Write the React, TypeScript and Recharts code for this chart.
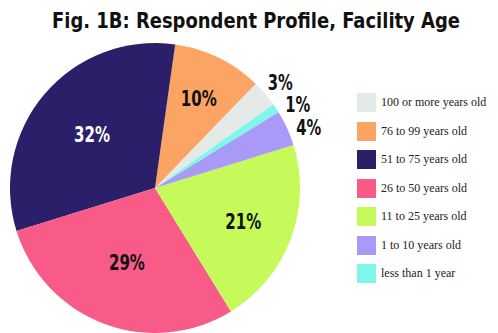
import { Cell, Pie, PieChart } from "recharts";

const categories = [
  "100 or more years old",
  "76 to 99 years old",
  "51 to 75 years old",
  "26 to 50 years old",
  "11 to 25 years old",
  "1 to 10 years old",
  "less than 1 year",
];
const shares = [3, 10, 32, 29, 21, 4, 1];
const colors = ["#e4eae8", "#fca464", "#2b1f6a", "#f95b88", "#c5fa5a", "#a89af6", "#80f6ea"];
// label distance from centre, as a fraction of the radius (small slices sit outside)
const labelRadius = [1.13, 0.69, 0.57, 0.55, 0.65, 1.14, 1.14];
// clockwise nudge (degrees) so the small outside labels do not collide
const labelNudge = [0.5, 0, 0, 0, 0, 2.8, 3.2];

const data = categories.map((name, i) => ({ name, value: shares[i] }));

const labelFont = "'DejaVu Sans Condensed', 'DejaVu Sans', sans-serif";

const RAD = Math.PI / 180;

function renderLabel(props: any) {
  const { cx, cy, midAngle, outerRadius, value, index } = props;
  const r = outerRadius * labelRadius[index];
  const a = (midAngle - labelNudge[index]) * RAD;
  const x = cx + r * Math.cos(-a);
  const y = cy + r * Math.sin(-a);
  const txt = `${value}%`;
  return (
    <text
      x={x}
      y={y}
      textAnchor="middle"
      dominantBaseline="central"
      fontFamily={labelFont}
      fontWeight="bold"
      fontSize={22}
      textLength={(txt.length - 1) * 11 + 14}
      lengthAdjust="spacingAndGlyphs"
      fill={index === 2 ? "#ffffff" : "#111111"}
    >
      {txt}
    </text>
  );
}

export default function App() {
  return (
    <div style={{ position: "absolute", left: 0, top: 0, width: 498, height: 333, background: "#fff" }}>
      <svg width={498} height={40} style={{ position: "absolute", left: 0, top: 0 }}>
        <text
          x={256}
          y={28}
          textAnchor="middle"
          fontFamily={labelFont}
          fontWeight="bold"
          fontSize={22}
          textLength={408}
          lengthAdjust="spacingAndGlyphs"
          fill="#111"
        >
          Fig. 1B: Respondent Profile, Facility Age
        </text>
      </svg>
      <div style={{ position: "absolute", left: 0, top: 0 }}>
        <PieChart width={498} height={333} margin={{ top: 0, right: 0, bottom: 0, left: 0 }}>
          <Pie
            data={data}
            dataKey="value"
            nameKey="name"
            cx={155}
            cy={188}
            outerRadius={145}
            startAngle={35.2}
            endAngle={395.2}
            stroke="none"
            labelLine={false}
            label={renderLabel}
            isAnimationActive={false}
          >
            {data.map((d, i) => (
              <Cell key={d.name} fill={colors[i]} />
            ))}
          </Pie>
        </PieChart>
      </div>
      <div
        style={{
          position: "absolute",
          left: 357,
          top: 93,
          fontFamily: "'Liberation Serif', serif",
          fontSize: 12,
          color: "#222",
        }}
      >
        {categories.map((c, i) => (
          <div key={c} style={{ display: "flex", alignItems: "center", height: 19, marginBottom: 9.5 }}>
            <span style={{ width: 19, height: 19, background: colors[i], marginRight: 5, flex: "none" }} />
            <span style={{ whiteSpace: "nowrap" }}>{c}</span>
          </div>
        ))}
      </div>
    </div>
  );
}
